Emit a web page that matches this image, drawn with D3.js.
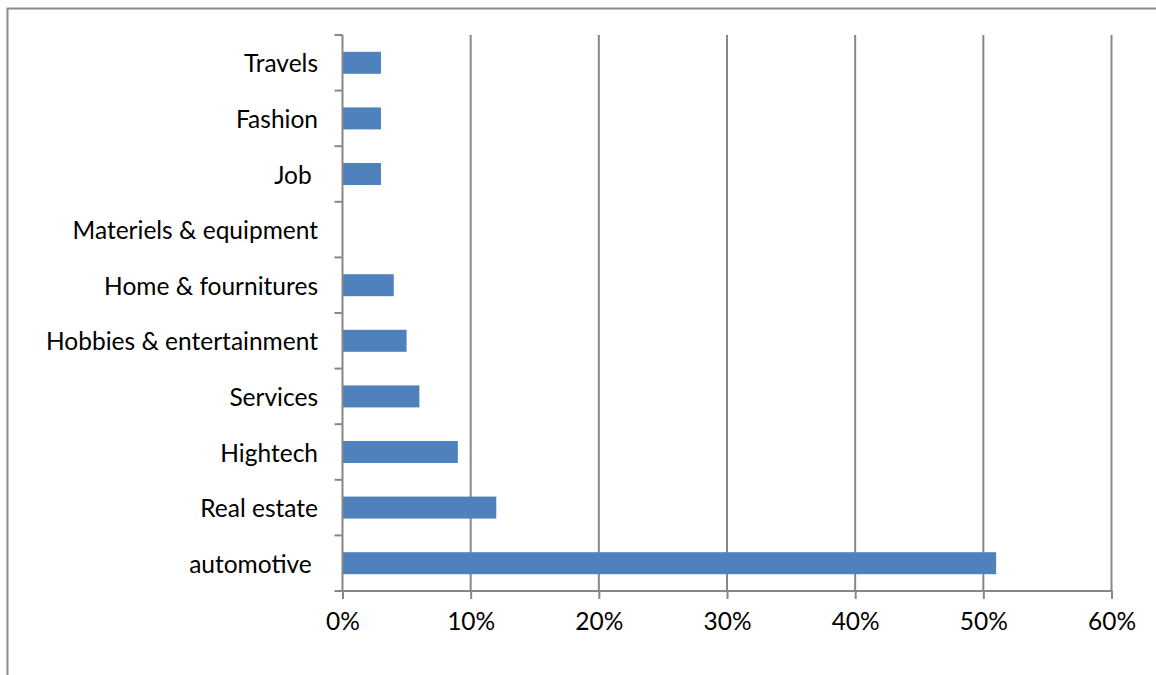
<!DOCTYPE html>
<html>
<head>
<meta charset="utf-8">
<script src="https://cdn.jsdelivr.net/npm/d3@7"></script>
<style>
  html, body { margin: 0; padding: 0; background: #fff; }
  svg text { font-family: Lato, "Open Sans", sans-serif; fill: #000; white-space: pre; }
</style>
</head>
<body>
<svg id="chart" width="1156" height="675"></svg>
<script>
// Share of listings by category (bottom to top)
const categories = ["automotive ", "Real estate", "Hightech", "Services", "Hobbies & entertainment",
  "Home & fournitures", "Materiels & equipment", "Job ", "Fashion", "Travels"];
const shares = [0.51, 0.12, 0.09, 0.06, 0.05, 0.04, 0.00, 0.03, 0.03, 0.03];
const xTicks = [0, 0.1, 0.2, 0.3, 0.4, 0.5, 0.6];

const svg = d3.select("#chart");
const plotLeft = 342.5, plotRight = 1111.5, plotTop = 35, plotBottom = 591;
const fontSize = 24.5;

// Outer frame
svg.append("rect")
  .attr("x", 7.5).attr("y", 8.5).attr("width", 1160).attr("height", 680)
  .attr("fill", "none").attr("stroke", "#8c8c8c").attr("stroke-width", 2);

const x = d3.scaleLinear().domain([0, 0.6]).range([plotLeft, plotRight]);
const yb = d3.scaleBand().domain(categories.slice().reverse()).range([plotTop, plotBottom]);

// Vertical gridlines
svg.append("g").selectAll("line").data(xTicks.slice(1)).join("line")
  .attr("x1", d => x(d)).attr("x2", d => x(d))
  .attr("y1", plotTop).attr("y2", plotBottom)
  .attr("stroke", "#878787").attr("stroke-width", 2);

// Bars
svg.append("g").selectAll("rect").data(categories).join("rect")
  .attr("x", x(0))
  .attr("y", d => yb(d) + yb.bandwidth() / 2 - 11)
  .attr("width", (d, i) => x(shares[i]) - x(0))
  .attr("height", 22)
  .attr("fill", "#4f81bd");

// X axis
const xAxis = d3.axisBottom(x).tickValues(xTicks).tickFormat(d3.format(".0%")).tickSize(8).tickPadding(14);
const gx = svg.append("g").attr("transform", `translate(0,${plotBottom})`).call(xAxis);
gx.select(".domain").attr("stroke", "#878787").attr("stroke-width", 2).attr("d", `M${plotLeft},0H${plotRight}`);
gx.selectAll(".tick line").attr("stroke", "#878787").attr("stroke-width", 2);
gx.selectAll(".tick text").attr("font-size", fontSize).attr("font-family", "Lato, Open Sans, sans-serif").attr("fill", "#000");

// Y axis: tick marks at band boundaries
const boundaries = d3.range(categories.length + 1).map(i => plotTop + i * yb.step());
const gy = svg.append("g");
gy.append("line").attr("x1", plotLeft).attr("x2", plotLeft).attr("y1", plotTop).attr("y2", plotBottom)
  .attr("stroke", "#878787").attr("stroke-width", 2);
gy.selectAll("line.tk").data(boundaries).join("line").attr("class", "tk")
  .attr("x1", plotLeft - 8).attr("x2", plotLeft).attr("y1", d => d).attr("y2", d => d)
  .attr("stroke", "#878787").attr("stroke-width", 2);
gy.selectAll("text").data(categories).join("text")
  .attr("x", 318).attr("y", d => yb(d) + yb.bandwidth() / 2)
  .attr("text-anchor", "end").attr("dominant-baseline", "central")
  .attr("font-size", fontSize)
  .text(d => d);
</script>
</body>
</html>
